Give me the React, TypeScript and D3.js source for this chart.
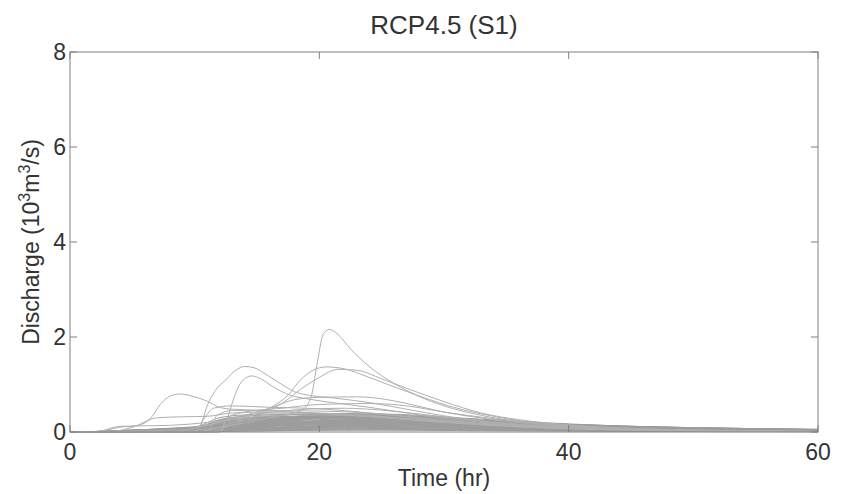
import React, { useEffect, useRef } from "react";
import * as d3 from "d3";

// time grid shared by the low, dense runs (hours)
const lowTimes = [0, 2, 4, 6, 8, 10, 12, 14, 16, 18, 20, 22, 25, 28, 31, 35, 40, 45, 50, 55, 60];

// discharge (10^3 m^3/s) of the low runs on lowTimes
const lowRuns = [
  [0, 0.0, 0.02, 0.04, 0.06, 0.09, 0.14, 0.2, 0.26, 0.31, 0.34, 0.35, 0.33, 0.29, 0.24, 0.18, 0.12, 0.08, 0.06, 0.04, 0.03],
  [0, 0.01, 0.03, 0.05, 0.07, 0.1, 0.15, 0.22, 0.28, 0.32, 0.36, 0.37, 0.35, 0.3, 0.25, 0.19, 0.13, 0.09, 0.06, 0.05, 0.03],
  [0, 0.0, 0.01, 0.03, 0.05, 0.07, 0.1, 0.16, 0.22, 0.27, 0.3, 0.31, 0.29, 0.26, 0.22, 0.17, 0.12, 0.08, 0.06, 0.04, 0.03],
  [0, 0.0, 0.02, 0.04, 0.06, 0.08, 0.25, 0.3, 0.32, 0.33, 0.32, 0.31, 0.28, 0.24, 0.2, 0.15, 0.1, 0.07, 0.05, 0.03, 0.02],
  [0, 0.0, 0.01, 0.02, 0.04, 0.06, 0.09, 0.13, 0.18, 0.24, 0.29, 0.32, 0.33, 0.3, 0.26, 0.2, 0.14, 0.1, 0.07, 0.05, 0.04],
  [0, 0.01, 0.03, 0.05, 0.08, 0.11, 0.18, 0.27, 0.33, 0.37, 0.39, 0.38, 0.34, 0.28, 0.23, 0.17, 0.11, 0.08, 0.05, 0.04, 0.03],
  [0, 0.0, 0.02, 0.03, 0.05, 0.07, 0.2, 0.26, 0.29, 0.3, 0.3, 0.29, 0.27, 0.24, 0.21, 0.17, 0.12, 0.09, 0.07, 0.05, 0.04],
  [0, 0.0, 0.01, 0.02, 0.03, 0.05, 0.08, 0.12, 0.16, 0.2, 0.24, 0.26, 0.27, 0.26, 0.23, 0.19, 0.14, 0.1, 0.08, 0.06, 0.04],
  [0, 0.0, 0.02, 0.04, 0.06, 0.09, 0.13, 0.19, 0.25, 0.3, 0.33, 0.34, 0.32, 0.28, 0.24, 0.19, 0.13, 0.1, 0.07, 0.05, 0.04],
  [0, 0.01, 0.03, 0.05, 0.07, 0.1, 0.3, 0.36, 0.38, 0.38, 0.37, 0.35, 0.31, 0.26, 0.21, 0.16, 0.11, 0.07, 0.05, 0.03, 0.02],
  [0, 0.0, 0.01, 0.03, 0.04, 0.06, 0.09, 0.14, 0.2, 0.26, 0.31, 0.35, 0.36, 0.33, 0.28, 0.22, 0.15, 0.11, 0.08, 0.06, 0.05],
  [0, 0.0, 0.02, 0.03, 0.05, 0.08, 0.12, 0.17, 0.21, 0.24, 0.26, 0.27, 0.26, 0.24, 0.21, 0.17, 0.13, 0.1, 0.07, 0.05, 0.04],
  [0, 0.0, 0.01, 0.02, 0.04, 0.06, 0.16, 0.22, 0.27, 0.31, 0.34, 0.35, 0.34, 0.31, 0.27, 0.22, 0.16, 0.11, 0.08, 0.06, 0.04],
  [0, 0.01, 0.02, 0.04, 0.06, 0.08, 0.11, 0.15, 0.19, 0.22, 0.24, 0.25, 0.24, 0.22, 0.19, 0.16, 0.12, 0.09, 0.07, 0.05, 0.04],
  [0, 0.0, 0.01, 0.03, 0.05, 0.07, 0.11, 0.18, 0.24, 0.28, 0.31, 0.32, 0.31, 0.28, 0.25, 0.21, 0.16, 0.12, 0.09, 0.07, 0.05],
  [0, 0.0, 0.02, 0.04, 0.06, 0.09, 0.22, 0.28, 0.31, 0.32, 0.32, 0.3, 0.27, 0.23, 0.19, 0.14, 0.1, 0.07, 0.05, 0.04, 0.03],
  [0, 0.0, 0.01, 0.02, 0.03, 0.05, 0.07, 0.1, 0.14, 0.18, 0.22, 0.25, 0.27, 0.27, 0.25, 0.21, 0.16, 0.12, 0.09, 0.07, 0.05],
  [0, 0.01, 0.03, 0.04, 0.06, 0.08, 0.12, 0.18, 0.23, 0.27, 0.29, 0.29, 0.27, 0.24, 0.2, 0.16, 0.11, 0.08, 0.06, 0.04, 0.03],
  [0, 0.0, 0.01, 0.03, 0.05, 0.07, 0.1, 0.15, 0.21, 0.27, 0.32, 0.36, 0.38, 0.35, 0.3, 0.24, 0.17, 0.12, 0.09, 0.07, 0.05],
  [0, 0.0, 0.02, 0.03, 0.05, 0.07, 0.18, 0.24, 0.28, 0.3, 0.31, 0.31, 0.3, 0.27, 0.24, 0.2, 0.15, 0.11, 0.08, 0.06, 0.05],
  [0, 0.0, 0.01, 0.02, 0.04, 0.05, 0.08, 0.11, 0.15, 0.19, 0.21, 0.22, 0.22, 0.21, 0.19, 0.16, 0.12, 0.09, 0.07, 0.05, 0.04],
  [0, 0.01, 0.02, 0.04, 0.06, 0.08, 0.13, 0.2, 0.26, 0.3, 0.32, 0.33, 0.31, 0.27, 0.23, 0.18, 0.13, 0.09, 0.07, 0.05, 0.04],
  [0, 0.0, 0.01, 0.02, 0.03, 0.04, 0.06, 0.09, 0.12, 0.15, 0.18, 0.2, 0.21, 0.2, 0.18, 0.15, 0.11, 0.08, 0.06, 0.05, 0.04],
  [0, 0.0, 0.02, 0.04, 0.05, 0.07, 0.26, 0.33, 0.36, 0.37, 0.36, 0.34, 0.3, 0.25, 0.2, 0.15, 0.1, 0.07, 0.05, 0.04, 0.03],
  [0, 0.0, 0.01, 0.03, 0.04, 0.06, 0.1, 0.14, 0.18, 0.21, 0.23, 0.24, 0.24, 0.23, 0.21, 0.18, 0.14, 0.11, 0.09, 0.07, 0.06],
  [0, 0.0, 0.02, 0.03, 0.05, 0.07, 0.11, 0.16, 0.21, 0.25, 0.28, 0.3, 0.3, 0.28, 0.25, 0.2, 0.15, 0.11, 0.08, 0.06, 0.05],
  [0, 0.0, 0.01, 0.02, 0.03, 0.05, 0.07, 0.1, 0.13, 0.16, 0.18, 0.19, 0.19, 0.18, 0.16, 0.13, 0.1, 0.08, 0.06, 0.05, 0.04],
  [0, 0.0, 0.01, 0.03, 0.05, 0.07, 0.14, 0.21, 0.27, 0.33, 0.37, 0.39, 0.37, 0.32, 0.27, 0.21, 0.14, 0.1, 0.07, 0.05, 0.04],
];

// smallest runs that fill the band just above zero, on lowTimes
const smallRuns = [
  [0, 0, 0.003, 0.006, 0.009, 0.012, 0.017, 0.023, 0.029, 0.034, 0.038, 0.04, 0.039, 0.035, 0.03, 0.025, 0.018, 0.014, 0.01, 0.008, 0.006],
  [0, 0, 0.002, 0.005, 0.008, 0.011, 0.015, 0.02, 0.026, 0.032, 0.038, 0.043, 0.048, 0.05, 0.048, 0.042, 0.034, 0.026, 0.02, 0.015, 0.012],
  [0, 0.001, 0.005, 0.009, 0.013, 0.018, 0.025, 0.035, 0.043, 0.052, 0.058, 0.06, 0.058, 0.053, 0.046, 0.037, 0.028, 0.02, 0.015, 0.011, 0.008],
  [0, 0.001, 0.006, 0.011, 0.016, 0.021, 0.03, 0.041, 0.05, 0.06, 0.067, 0.07, 0.068, 0.062, 0.053, 0.043, 0.032, 0.024, 0.018, 0.013, 0.01],
  [0, 0.002, 0.006, 0.012, 0.018, 0.024, 0.034, 0.046, 0.058, 0.069, 0.077, 0.08, 0.078, 0.07, 0.061, 0.05, 0.037, 0.027, 0.02, 0.015, 0.011],
  [0, 0.001, 0.004, 0.008, 0.013, 0.018, 0.026, 0.036, 0.047, 0.058, 0.068, 0.077, 0.086, 0.09, 0.086, 0.076, 0.06, 0.046, 0.035, 0.027, 0.021],
  [0, 0.002, 0.008, 0.015, 0.022, 0.03, 0.042, 0.058, 0.072, 0.086, 0.096, 0.1, 0.097, 0.088, 0.076, 0.062, 0.046, 0.034, 0.025, 0.019, 0.014],
  [0, 0.003, 0.01, 0.018, 0.027, 0.036, 0.052, 0.07, 0.086, 0.1, 0.108, 0.11, 0.104, 0.092, 0.078, 0.062, 0.046, 0.034, 0.025, 0.019, 0.014],
  [0, 0.002, 0.01, 0.018, 0.026, 0.036, 0.05, 0.07, 0.086, 0.103, 0.115, 0.12, 0.116, 0.106, 0.091, 0.074, 0.055, 0.041, 0.03, 0.023, 0.017],
  [0, 0.001, 0.006, 0.012, 0.018, 0.026, 0.037, 0.052, 0.068, 0.084, 0.099, 0.112, 0.125, 0.13, 0.125, 0.11, 0.088, 0.067, 0.05, 0.039, 0.03],
  [0, 0.003, 0.011, 0.021, 0.031, 0.042, 0.059, 0.081, 0.101, 0.12, 0.134, 0.14, 0.136, 0.123, 0.106, 0.087, 0.064, 0.048, 0.035, 0.027, 0.02],
  [0, 0.002, 0.008, 0.015, 0.022, 0.03, 0.1, 0.125, 0.138, 0.146, 0.15, 0.148, 0.14, 0.126, 0.11, 0.09, 0.068, 0.05, 0.038, 0.029, 0.022],
  [0, 0.003, 0.013, 0.024, 0.035, 0.048, 0.067, 0.093, 0.115, 0.138, 0.154, 0.16, 0.155, 0.141, 0.122, 0.099, 0.074, 0.054, 0.04, 0.03, 0.022],
  [0, 0.002, 0.008, 0.016, 0.024, 0.034, 0.048, 0.068, 0.088, 0.11, 0.13, 0.148, 0.164, 0.17, 0.163, 0.144, 0.115, 0.088, 0.066, 0.05, 0.038],
  [0, 0.004, 0.014, 0.027, 0.04, 0.054, 0.076, 0.104, 0.13, 0.155, 0.173, 0.18, 0.175, 0.158, 0.137, 0.112, 0.083, 0.061, 0.045, 0.034, 0.025],
  [0, 0.002, 0.01, 0.02, 0.03, 0.04, 0.13, 0.16, 0.176, 0.186, 0.19, 0.187, 0.177, 0.16, 0.14, 0.114, 0.085, 0.063, 0.047, 0.036, 0.027],
  [0, 0.004, 0.016, 0.03, 0.044, 0.06, 0.084, 0.116, 0.144, 0.172, 0.192, 0.2, 0.194, 0.176, 0.152, 0.124, 0.092, 0.068, 0.05, 0.038, 0.028],
  [0, 0.004, 0.018, 0.033, 0.048, 0.066, 0.092, 0.128, 0.158, 0.189, 0.211, 0.22, 0.213, 0.194, 0.167, 0.136, 0.101, 0.075, 0.055, 0.042, 0.031],
];

// middle runs, [hour, discharge] pairs
const midRuns = [
  [[0, 0], [10, 0], [10.8, 0.3], [11.5, 0.5], [13, 0.55], [16, 0.52], [19, 0.5], [22, 0.45], [26, 0.35], [30, 0.24], [35, 0.14], [40, 0.08], [50, 0.03], [60, 0.01]],
  [[0, 0], [11, 0], [11.8, 0.35], [13, 0.45], [16, 0.45], [20, 0.44], [24, 0.4], [28, 0.3], [32, 0.2], [36, 0.13], [40, 0.08], [50, 0.03], [60, 0.01]],
  [[0, 0], [9, 0.05], [12, 0.2], [14, 0.35], [16, 0.5], [18, 0.68], [20, 0.73], [23, 0.74], [25, 0.7], [27, 0.6], [30, 0.42], [34, 0.26], [38, 0.15], [42, 0.09], [50, 0.03], [60, 0.01]],
  [[0, 0], [12, 0], [12.6, 0.3], [14, 0.42], [17, 0.5], [20, 0.58], [24, 0.6], [27, 0.55], [30, 0.42], [34, 0.28], [38, 0.17], [42, 0.1], [50, 0.04], [60, 0.01]],
  [[0, 0], [8, 0], [11, 0.15], [13, 0.3], [15, 0.38], [19, 0.48], [22, 0.5], [25, 0.46], [28, 0.38], [32, 0.26], [36, 0.16], [40, 0.1], [50, 0.03], [60, 0.01]],
  [[0, 0], [3, 0], [5, 0.1], [7, 0.3], [9, 0.32], [11, 0.33], [13, 0.4], [16, 0.42], [20, 0.4], [24, 0.35], [28, 0.26], [32, 0.18], [36, 0.11], [40, 0.07], [50, 0.02], [60, 0.01]],
  [[0, 0], [2, 0], [4, 0.12], [8, 0.14], [11, 0.2], [14, 0.3], [18, 0.36], [22, 0.35], [26, 0.3], [30, 0.22], [35, 0.13], [40, 0.08], [50, 0.03], [60, 0.01]],
];

// runs with the highest peaks
const peakRuns = [
  // early peak near 8 h
  [[0, 0], [2, 0], [4, 0.1], [5.5, 0.14], [6.5, 0.3], [7.3, 0.6], [8, 0.75], [8.8, 0.8], [10, 0.74], [11, 0.65], [12, 0.52], [13, 0.48], [15, 0.46], [18, 0.42], [22, 0.36], [26, 0.28], [30, 0.2], [35, 0.12], [40, 0.07], [50, 0.03], [60, 0.01]],
  // peaks near 14 h
  [[0, 0], [10, 0], [10.5, 0.15], [11, 0.55], [11.6, 0.85], [12.5, 1.1], [13.3, 1.3], [14, 1.38], [14.8, 1.35], [15.8, 1.2], [17, 1.0], [18, 0.85], [19, 0.78], [21, 0.72], [24, 0.62], [27, 0.48], [30, 0.34], [34, 0.2], [38, 0.12], [42, 0.07], [50, 0.03], [60, 0.01]],
  [[0, 0], [12, 0], [12.5, 0.2], [13, 0.6], [13.5, 0.95], [14, 1.12], [14.6, 1.18], [15.3, 1.12], [16.3, 0.95], [17.6, 0.78], [19, 0.7], [21, 0.62], [24, 0.52], [27, 0.4], [30, 0.29], [34, 0.18], [38, 0.11], [42, 0.07], [50, 0.03], [60, 0.01]],
  // peaks near 20 h
  [[0, 0], [10, 0], [12, 0.1], [14, 0.3], [16, 0.5], [17.5, 0.78], [18.5, 1.1], [19.5, 1.3], [20.5, 1.37], [22, 1.33], [24, 1.15], [26, 0.95], [28, 0.76], [30, 0.58], [33, 0.38], [36, 0.24], [40, 0.14], [45, 0.07], [50, 0.04], [60, 0.01]],
  [[0, 0], [11, 0], [13, 0.15], [15, 0.35], [17, 0.6], [18.5, 0.9], [20, 1.15], [21.5, 1.32], [23, 1.3], [25, 1.12], [27, 0.92], [30, 0.64], [33, 0.4], [36, 0.26], [40, 0.15], [45, 0.08], [50, 0.04], [60, 0.01]],
  [[0, 0], [8, 0], [12, 0.1], [16, 0.3], [18.5, 0.45], [19.3, 0.7], [19.8, 1.4], [20.3, 2.05], [20.8, 2.16], [21.5, 2.05], [22.5, 1.75], [24, 1.38], [26, 1.02], [28, 0.75], [30, 0.55], [33, 0.35], [36, 0.22], [40, 0.12], [45, 0.06], [50, 0.03], [60, 0.01]],
];

const xTicks = [0, 20, 40, 60];
const yTicks = [0, 2, 4, 6, 8];

export default function App() {
  const svgRef = useRef<SVGSVGElement>(null);

  useEffect(() => {
    if (!svgRef.current) return;
    const svg = d3.select(svgRef.current);
    svg.selectAll("*").remove();

    const W = 850;
    const H = 494;
    const margin = { top: 52, right: 32, bottom: 62, left: 70 };
    const width = W - margin.left - margin.right;
    const height = H - margin.top - margin.bottom;
    const font = "'Liberation Sans', Arial, sans-serif";
    const textColor = "#333";
    const axisColor = "#808080";
    const denseColor = "#9c9c9c";
    const lineColor = "#b0b0b0";

    const x = d3.scaleLinear().domain([0, 60]).range([0, width]);
    const y = d3.scaleLinear().domain([0, 8]).range([height, 0]);

    const g = svg.append("g").attr("transform", `translate(${margin.left},${margin.top})`);

    const line = d3
      .line<number[]>()
      .x((d) => x(d[0]))
      .y((d) => y(d[1]))
      .curve(d3.curveMonotoneX);

    const onGrid = (vals: number[]) => vals.map((v, i) => [lowTimes[i], v]);

    // dense low runs first, the few big ones on top
    g.selectAll("path.low")
      .data([...smallRuns.map(onGrid), ...lowRuns.map(onGrid)])
      .join("path")
      .attr("class", "low")
      .attr("fill", "none")
      .attr("stroke", denseColor)
      .attr("stroke-width", 1)
      .attr("d", (d) => line(d as number[][]));

    g.selectAll("path.high")
      .data([...midRuns, ...peakRuns])
      .join("path")
      .attr("class", "high")
      .attr("fill", "none")
      .attr("stroke", lineColor)
      .attr("stroke-width", 1)
      .attr("d", (d) => line(d as number[][]));

    // box
    g.append("rect")
      .attr("x", 0)
      .attr("y", 0)
      .attr("width", width)
      .attr("height", height)
      .attr("fill", "none")
      .attr("stroke", axisColor)
      .attr("stroke-width", 1);

    const tickLen = 7;
    xTicks.forEach((t) => {
      g.append("line")
        .attr("x1", x(t)).attr("x2", x(t))
        .attr("y1", height).attr("y2", height - tickLen)
        .attr("stroke", axisColor);
      g.append("line")
        .attr("x1", x(t)).attr("x2", x(t))
        .attr("y1", 0).attr("y2", tickLen)
        .attr("stroke", axisColor);
      g.append("text")
        .attr("x", x(t))
        .attr("y", height + 28)
        .attr("text-anchor", "middle")
        .attr("font-family", font)
        .attr("font-size", 23)
        .attr("fill", textColor)
        .text(t);
    });

    yTicks.forEach((t) => {
      g.append("line")
        .attr("x1", 0).attr("x2", tickLen)
        .attr("y1", y(t)).attr("y2", y(t))
        .attr("stroke", axisColor);
      g.append("line")
        .attr("x1", width).attr("x2", width - tickLen)
        .attr("y1", y(t)).attr("y2", y(t))
        .attr("stroke", axisColor);
      g.append("text")
        .attr("x", -4)
        .attr("y", y(t) + 8)
        .attr("text-anchor", "end")
        .attr("font-family", font)
        .attr("font-size", 23)
        .attr("fill", textColor)
        .text(t);
    });

    // title
    svg.append("text")
      .attr("x", margin.left + width / 2)
      .attr("y", 34)
      .attr("text-anchor", "middle")
      .attr("font-family", font)
      .attr("font-size", 26)
      .attr("fill", textColor)
      .text("RCP4.5 (S1)");

    // x label
    svg.append("text")
      .attr("x", margin.left + width / 2)
      .attr("y", 486)
      .attr("text-anchor", "middle")
      .attr("font-family", font)
      .attr("font-size", 23)
      .attr("fill", textColor)
      .text("Time (hr)");

    // y label with superscripts
    const yl = svg.append("text")
      .attr("transform", `translate(39,${margin.top + height / 2}) rotate(-90)`)
      .attr("text-anchor", "middle")
      .attr("font-family", font)
      .attr("font-size", 23)
      .attr("fill", textColor);
    yl.append("tspan").text("Discharge (10");
    yl.append("tspan").attr("dy", -9).attr("font-size", 16).text("3");
    yl.append("tspan").attr("dy", 9).text("m");
    yl.append("tspan").attr("dy", -9).attr("font-size", 16).text("3");
    yl.append("tspan").attr("dy", 9).text("/s)");
  }, []);

  return (
    <svg
      ref={svgRef}
      width={850}
      height={494}
      style={{ position: "absolute", left: 0, top: 0, background: "#fff" }}
    />
  );
}
